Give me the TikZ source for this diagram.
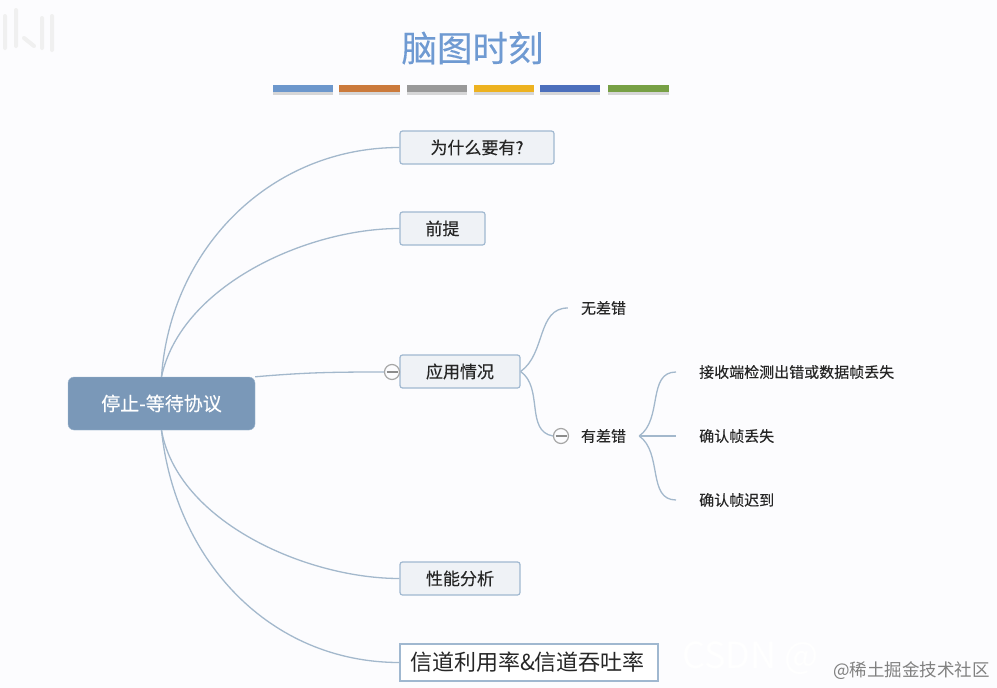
\documentclass[tikz,border=0pt]{standalone}
\usepackage{fontspec}
\setmainfont{Noto Sans CJK SC}
\newfontfamily\medfont[FakeBold=0.25]{Noto Sans CJK SC}
\usetikzlibrary{shadows}
\definecolor{paper}{HTML}{FCFCFE}
\definecolor{linkblue}{HTML}{A3B8CC}
\definecolor{rootblue}{HTML}{7A98B8}
\definecolor{boxfill}{HTML}{EFF2F6}
\definecolor{boxline}{HTML}{A0B8D0}
\definecolor{titleblue}{HTML}{6F9AD2}
\tikzset{
    link/.style={draw=linkblue,line width=1.3pt},
    topic/.style={draw=boxline,fill=boxfill,line width=1.2pt,rounded corners=2.5pt,
        minimum height=33pt,inner sep=0pt,text=black!85,font=\medfont\fontsize{17}{19}\selectfont},
    leaf/.style={inner xsep=13pt,inner ysep=2pt,text=black!85,font=\medfont\fontsize{15}{17}\selectfont},
    deepleaf/.style={leaf,anchor=west,inner xsep=23pt},
    collapse/.style={circle,draw=black!35,fill=paper,line width=1.2pt,minimum size=15pt,inner sep=0pt,
        path picture={\draw[black!45,line width=1.2pt] ([xshift=2pt]path picture bounding box.west)--([xshift=-2pt]path picture bounding box.east);}},
}
\begin{document}
\begin{tikzpicture}[x=1pt,y=-1pt]
    \def\mw{997} \def\mh{688}
    \useasboundingbox (0,0) rectangle (\mw,\mh);
    \fill[paper] (0,0) rectangle (\mw,\mh);
    %===========================================
    \draw[black!6,line width=4pt,line cap=round] (5,16)--(5,48) (16,10)--(16,46) (24,38)--(34,46) (42,18)--(42,48) (52,16)--(52,50);
    \node[text=titleblue,font=\medfont\fontsize{35.5}{38}\selectfont] (title) at (472.5,48) {脑图时刻};
    \foreach \xa/\xb/\col in {273/333/6C97CC,339/399.5/CB7A3C,407/467/999999,474/534/EDB220,540/600/4C6FBC,608/669/77A045}{
        \definecolor{barcol}{HTML}{\col}
        \fill[barcol,drop shadow={shadow xshift=0pt,shadow yshift=-2.5pt,opacity=.3}] (\xa,85) rectangle (\xb,92);
    }
    %===========================================
    \node[fill=rootblue,draw=boxline,rounded corners=6pt,minimum width=187pt,minimum height=53pt,inner sep=0pt,
        text=white,font=\medfont\fontsize{19}{21}\selectfont] (root) at (161.5,403.5) {停止-等待协议};
    \node[topic,minimum width=154pt] (why) at (477,147.5) {为什么要有?};
    \node[topic,minimum width=85pt] (premise) at (442.5,228.5) {前提};
    \node[topic,minimum width=120pt] (usage) at (460,371.5) {应用情况};
    \node[topic,minimum width=120pt] (perf) at (460,578.5) {性能分析};
    \node[draw=boxline,fill=white,line width=1.2pt,minimum width=258pt,minimum height=37pt,inner sep=0pt,
        text=black!85,font=\fontsize{22}{24}\selectfont] (rate) at (529,662.5) {\hspace{-3pt}信道利用率\&信道吞吐率};
    \node[collapse] (foldusage) at (392,372) {};
    \node[leaf] (noerr) at (603.5,308) {无差错};
    \node[leaf] (err) at (603.5,436) {有差错};
    \node[collapse] (folderr) at (561,436) {};
    \node[deepleaf] (lost) at (676,372) {接收端检测出错或数据帧丢失};
    \node[deepleaf] (acklost) at (676,436) {确认帧丢失};
    \node[deepleaf] (acklate) at (676,500) {确认帧迟到};
    %===========================================
    \draw[link] (root.north) to[out=86,in=180,looseness=1] (why.west);
    \draw[link] (root.north) to[out=78,in=180,looseness=.85] (premise.west);
    \draw[link] (root.south) to[out=-80,in=180,looseness=.85] (perf.west);
    \draw[link] (root.south) to[out=-84,in=180,looseness=1] (rate.west);
    \draw[link] (root.north east) to[out=5,in=180] (foldusage.west);
    \draw[link] (usage.east) to[out=35,in=180,looseness=1] (noerr.west);
    \draw[link] (usage.east) to[out=-35,in=170,looseness=1] (folderr.west);
    \draw[link] (err.east) to[out=35,in=180,looseness=1] (lost.west);
    \draw[link] (err.east) -- (acklost.west);
    \draw[link] (err.east) to[out=-35,in=180,looseness=1] (acklate.west);
    %===========================================
    \node[anchor=west,inner sep=0pt,text=white,font=\fontsize{36}{38}\selectfont] (csdn) at (682,658) {CSDN @};
    \node[anchor=east,text=black!50,inner sep=0pt,font=\fontsize{17.5}{19}\selectfont] (mark) at (990,671) {@稀土掘金技术社区};
\end{tikzpicture}
\end{document}
